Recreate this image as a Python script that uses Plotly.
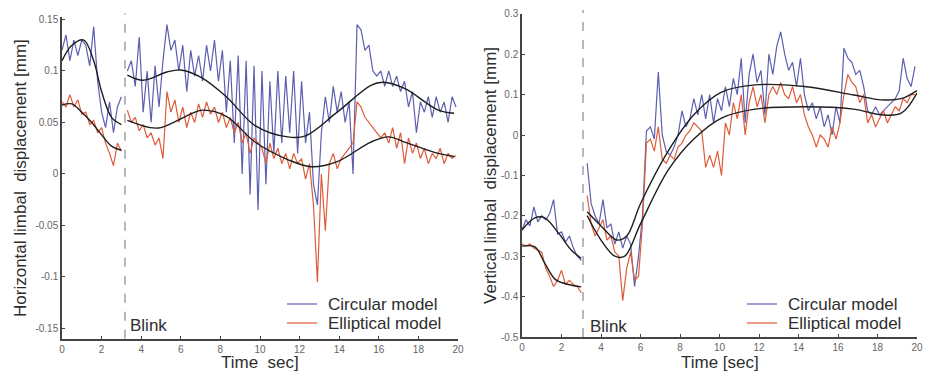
import numpy as np
import plotly.graph_objects as go

# ---------------- data ----------------
t_pre = [round(v, 1) for v in np.arange(0.0, 3.01, 0.2)]          # 16 samples before blink
t_post = [round(v, 1) for v in np.arange(3.3, 19.91, 0.2)]        # 84 samples after blink

series_names = ["Circular model", "Elliptical model"]

# Left panel: horizontal limbal displacement [mm]
h_circ_pre = [0.12, 0.135, 0.11, 0.13, 0.115, 0.13, 0.125, 0.105, 0.143, 0.09,
              0.06, 0.045, 0.07, 0.04, 0.065, 0.075]
h_circ_post = [0.10, 0.11, 0.085, 0.133, 0.06, 0.10, 0.05, 0.105, 0.065, 0.11,
               0.145, 0.12, 0.13, 0.10, 0.125, 0.08, 0.12, 0.095, 0.115, 0.09,
               0.125, 0.10, 0.13, 0.09, 0.12, 0.06, 0.11, 0.03, 0.115, 0.0,
               0.11, -0.02, 0.105, -0.035, 0.10, -0.01, 0.09, 0.02, 0.10, 0.03,
               0.095, 0.04, 0.10, 0.02, 0.09, 0.03, 0.06, -0.01, -0.03, 0.04,
               0.075, 0.05, 0.085, 0.06, 0.08, 0.05, 0.07, 0.0, 0.145, 0.14,
               0.12, 0.125, 0.10, 0.095, 0.10, 0.085, 0.10, 0.085, 0.095, 0.08,
               0.09, 0.065, 0.08, 0.04, 0.07, 0.06, 0.075, 0.055, 0.075, 0.06,
               0.07, 0.05, 0.075, 0.065]
h_ell_pre = [0.07, 0.065, 0.077, 0.065, 0.072, 0.058, 0.06, 0.048, 0.052, 0.04,
             0.045, 0.03, 0.02, 0.008, 0.03, 0.022]
h_ell_post = [0.062, 0.05, 0.055, 0.042, 0.048, 0.035, 0.04, 0.028, 0.035, 0.015,
              0.08, 0.06, 0.072, 0.05, 0.065, 0.045, 0.06, 0.05, 0.068, 0.055,
              0.07, 0.058, 0.065, 0.05, 0.06, 0.045, 0.055, 0.04, 0.05, 0.03,
              0.04, 0.02, 0.035, 0.03, 0.025, 0.01, 0.03, 0.015, 0.025, 0.01,
              0.02, 0.005, 0.02, 0.01, 0.015, -0.005, 0.01, -0.03, -0.105, 0.0,
              -0.055, 0.01, 0.02, 0.005, 0.015, 0.02, 0.025, 0.03, 0.07, 0.065,
              0.055, 0.05, 0.045, 0.04, 0.035, 0.04, 0.03, 0.045, 0.025, 0.04,
              0.01, 0.035, 0.02, 0.03, 0.015, 0.025, 0.01, 0.02, 0.015, 0.025,
              0.01, 0.02, 0.015, 0.018]

# fitted curves (left)
h_fit_circ_pre_t = [0.0, 0.5, 1.1, 1.6, 2.0, 2.5, 3.0]
h_fit_circ_pre_v = [0.11, 0.125, 0.13, 0.11, 0.08, 0.055, 0.048]
h_fit_ell_pre_t = [0.0, 0.5, 1.0, 1.5, 2.0, 2.5, 3.0]
h_fit_ell_pre_v = [0.067, 0.068, 0.06, 0.05, 0.038, 0.027, 0.023]
h_fit_circ_post_t = [3.3, 4.1, 5.3, 6.0, 7.0, 8.3, 9.75, 11.4, 12.3, 13.9, 15.6, 16.2, 17.3, 19.0, 19.8]
h_fit_circ_post_v = [0.096, 0.091, 0.099, 0.101, 0.094, 0.075, 0.047, 0.036, 0.037, 0.06, 0.086, 0.089, 0.083, 0.062, 0.059]
h_fit_ell_post_t = [3.3, 4.45, 5.0, 6.6, 7.1, 8.3, 9.75, 11.4, 12.6, 13.9, 15.6, 16.5, 17.3, 19.0, 19.8]
h_fit_ell_post_v = [0.052, 0.045, 0.045, 0.059, 0.062, 0.056, 0.031, 0.014, 0.007, 0.012, 0.031, 0.036, 0.031, 0.02, 0.017]

# Right panel: vertical limbal displacement [mm]
v_circ_pre = [-0.235, -0.21, -0.225, -0.178, -0.215, -0.2, -0.21, -0.195, -0.16, -0.245,
              -0.24, -0.265, -0.25, -0.28, -0.3, -0.31]
v_circ_post = [-0.07, -0.17, -0.2, -0.22, -0.16, -0.23, -0.22, -0.27, -0.24, -0.28,
               -0.25, -0.27, -0.375, -0.3, -0.2, 0.01, 0.02, -0.01, 0.156, 0.0,
               -0.04, -0.05, -0.03, 0.0, 0.06, 0.02, 0.04, 0.09, 0.05, 0.1,
               0.04, 0.1, 0.03, 0.09, 0.06, 0.12, 0.07, 0.14, 0.1, 0.19,
               0.03, 0.15, 0.2, 0.13, 0.16, 0.05, 0.2, 0.15, 0.22, 0.255,
               0.2, 0.16, 0.18, 0.12, 0.19, 0.1, 0.06, 0.08, 0.04, 0.07,
               0.02, 0.05, 0.0, 0.07, 0.03, 0.215, 0.19, 0.18, 0.15, 0.16,
               0.12, 0.06, 0.05, 0.07, 0.05, 0.06, 0.07, 0.08, 0.09, 0.11,
               0.19, 0.14, 0.12, 0.17]
v_ell_pre = [-0.27, -0.275, -0.27, -0.28, -0.285, -0.29, -0.33, -0.35, -0.375, -0.36,
             -0.335, -0.37, -0.36, -0.37, -0.375, -0.39]
v_ell_post = [-0.15, -0.22, -0.25, -0.23, -0.21, -0.26, -0.25, -0.29, -0.3, -0.41,
              -0.33, -0.29, -0.36, -0.35, -0.22, -0.02, -0.01, -0.04, 0.02, -0.06,
              -0.07, -0.05, -0.06, -0.03, -0.02, 0.0, 0.01, 0.03, 0.02, 0.01,
              -0.08, -0.05, -0.08, -0.04, -0.1, 0.03, 0.0, 0.08, 0.04, 0.1,
              0.0, 0.08, 0.12, 0.07, 0.1, 0.03, 0.1, 0.12, 0.1, 0.13,
              0.1, 0.09, 0.12, 0.08, 0.1, 0.05, 0.02, 0.0, -0.03, 0.0,
              -0.01, -0.03, 0.02, -0.01, 0.03, 0.1, 0.15, 0.13, 0.12, 0.08,
              0.1, 0.03, 0.05, 0.02, 0.04, 0.06, 0.03, 0.05, 0.07, 0.06,
              0.09, 0.08, 0.1, 0.1]

# fitted curves (right)
v_fit_a_pre_t = [0.0, 0.65, 1.15, 1.85, 2.5, 3.0]
v_fit_a_pre_v = [-0.235, -0.205, -0.205, -0.243, -0.285, -0.305]
v_fit_b_pre_t = [0.0, 0.65, 1.15, 1.7, 2.35, 3.0]
v_fit_b_pre_v = [-0.275, -0.277, -0.317, -0.358, -0.37, -0.376]
v_fit_a_post_t = [3.3, 4.0, 4.8, 5.3, 6.0, 7.4, 8.7, 10.1, 11.8, 14.3, 16.8, 18.2, 19.2, 20.0]
v_fit_a_post_v = [-0.19, -0.225, -0.26, -0.25, -0.17, -0.04, 0.05, 0.106, 0.124, 0.12, 0.099, 0.087, 0.09, 0.11]
v_fit_b_post_t = [3.3, 4.0, 4.7, 5.2, 6.0, 7.4, 8.7, 10.1, 11.8, 14.3, 16.8, 18.2, 19.2, 20.0]
v_fit_b_post_v = [-0.2, -0.26, -0.3, -0.3, -0.22, -0.087, -0.01, 0.042, 0.064, 0.07, 0.064, 0.05, 0.054, 0.104]

blink_t_left = 3.18
blink_t_right = 3.09

x_ticks = list(range(0, 21, 2))
h_ticks = [-0.15, -0.1, -0.05, 0, 0.05, 0.1, 0.15]
h_tick_text = ['-0.15', '-0.1', '-0.05', '0', '0.05', '0.1', '0.15']
v_ticks = [-0.5, -0.4, -0.3, -0.2, -0.1, 0, 0.1, 0.2, 0.3]
v_tick_text = ['-0.5', '-0.4', '-0.3', '-0.2', '-0.1', '0', '0.1', '0.2', '0.3']

x_titles = ["Time  sec]", "Time [sec]"]
y_titles = ["Horizontal limbal  displacement [mm]", "Vertical limbal  displacement [mm]"]

# ---------------- styling ----------------
W, H = 933, 376
FONT = "Liberation Sans, Arial, Helvetica, sans-serif"
BLUE = "rgb(92,95,175)"
RED = "rgb(222,92,58)"
FIT = "#1e1e1e"
AX = "#444444"
TXT = "#2e2e2e"
FS = 17


def joined(a_t, a_v, b_t, b_v):
    return list(a_t) + [None] + list(b_t), list(a_v) + [None] + list(b_v)


fig = go.Figure()

panels = [
    dict(xa="x", ya="y", legx=287, xdom=(62, 458),
         circ=(h_circ_pre, h_circ_post), ell=(h_ell_pre, h_ell_post),
         fits=[(h_fit_circ_pre_t, h_fit_circ_pre_v, h_fit_circ_post_t, h_fit_circ_post_v),
               (h_fit_ell_pre_t, h_fit_ell_pre_v, h_fit_ell_post_t, h_fit_ell_post_v)]),
    dict(xa="x2", ya="y2", legx=747, xdom=(522, 917),
         circ=(v_circ_pre, v_circ_post), ell=(v_ell_pre, v_ell_post),
         fits=[(v_fit_a_pre_t, v_fit_a_pre_v, v_fit_a_post_t, v_fit_a_post_v),
               (v_fit_b_pre_t, v_fit_b_pre_v, v_fit_b_post_t, v_fit_b_post_v)]),
]

for k, p in enumerate(panels):
    for name, color, (pre, post) in zip(series_names, (BLUE, RED), (p["circ"], p["ell"])):
        xs, ys = joined(t_pre, pre, t_post, post)
        fig.add_trace(go.Scatter(x=xs, y=ys, mode="lines", name=name, showlegend=False,
                                 line=dict(color=color, width=1.2),
                                 xaxis=p["xa"], yaxis=p["ya"]))
    for (a_t, a_v, b_t, b_v) in p["fits"]:
        for tt, vv in ((a_t, a_v), (b_t, b_v)):
            fig.add_trace(go.Scatter(x=tt, y=vv, mode="lines", showlegend=False,
                                     line=dict(color=FIT, width=1.4, shape="spline", smoothing=1.0),
                                     xaxis=p["xa"], yaxis=p["ya"], hoverinfo="skip"))
    # legend (line sample + label) in the lower right of each panel
    for i, (name, color) in enumerate(zip(series_names, (BLUE, RED))):
        yy = 1 - (304 + 19 * i) / H
        fig.add_shape(type="line", xref="paper", yref="paper",
                      x0=p["legx"] / W, x1=(p["legx"] + 30) / W, y0=yy, y1=yy,
                      line=dict(color=color, width=1.2))
        fig.add_annotation(xref="paper", yref="paper", x=(p["legx"] + 39) / W, y=yy,
                           text=name, showarrow=False, xanchor="left", yanchor="middle",
                           font=dict(family=FONT, size=FS, color=TXT))
    # x-axis title
    fig.add_annotation(xref="paper", yref="paper", x=(p["xdom"][0] + p["xdom"][1]) / 2 / W,
                       y=1 - 362 / H, text=x_titles[k], showarrow=False,
                       xanchor="center", yanchor="middle",
                       font=dict(family=FONT, size=FS, color=TXT))

axis_common = dict(showline=True, linecolor=AX, linewidth=1.5, ticks="inside", ticklen=3,
                   tickcolor=AX, tickwidth=1, showgrid=False, zeroline=False, mirror=False,
                   tickfont=dict(family=FONT, size=10, color="#666666"), automargin=False)

title_font = dict(family=FONT, size=FS, color=TXT)

fig.update_layout(
    width=W, height=H,
    margin=dict(l=0, r=0, t=0, b=0),
    paper_bgcolor="white", plot_bgcolor="white",
    font=dict(family=FONT),
    showlegend=False,
    xaxis=dict(domain=[62 / W, 458 / W], range=[0, 20], tickvals=x_ticks,
               ticktext=[str(v) for v in x_ticks], anchor="y", **axis_common),
    yaxis=dict(domain=[1 - 338.8 / H, 1 - 17.4 / H], range=[-0.16, 0.152], tickvals=h_ticks,
               ticktext=h_tick_text, anchor="x",
               title=dict(text=y_titles[0], font=title_font, standoff=4),
               **axis_common),
    xaxis2=dict(domain=[522 / W, 917 / W], range=[0, 20], tickvals=x_ticks,
                ticktext=[str(v) for v in x_ticks], anchor="y2", **axis_common),
    yaxis2=dict(domain=[1 - 337 / H, 1 - 13.8 / H], range=[-0.5, 0.3], tickvals=v_ticks,
                ticktext=v_tick_text, anchor="x2",
                title=dict(text=y_titles[1], font=title_font, standoff=0),
                **axis_common),
)

# blink markers
for xa, ya, tb, dy, sh in (("x", "y", blink_t_left, 0.04, 3), ("x2", "y2", blink_t_right, 0.034, 5)):
    fig.add_shape(type="line", xref=xa, yref=f"{ya} domain", x0=tb, x1=tb, y0=0, y1=1.012,
                  line=dict(color="#8a8a8a", width=1.2, dash="dash"))
    fig.add_annotation(xref=xa, yref=f"{ya} domain", x=tb, y=dy, text="Blink",
                       showarrow=False, xanchor="left", yanchor="middle", xshift=sh,
                       font=dict(family=FONT, size=FS, color=TXT))

fig.write_html("out.html", config={"displayModeBar": False},
               post_script="document.body.style.margin='0px';")
